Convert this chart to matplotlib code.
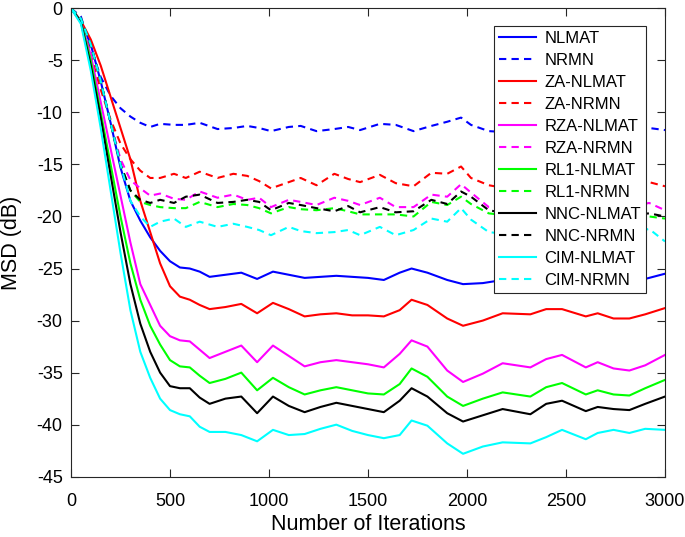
import numpy as np
import matplotlib
matplotlib.use("Agg")
import matplotlib.pyplot as plt

plt.rcParams['font.family'] = ['Liberation Sans', 'DejaVu Sans']
plt.rcParams['axes.unicode_minus'] = False

# ---- data (iteration, MSD in dB) ----
it_solid = [0, 50, 100, 150, 200, 250, 300, 350, 400, 450, 500, 550, 600, 650, 700,
            780, 860, 940, 1020, 1100, 1180, 1260, 1340, 1420, 1500, 1580, 1660, 1720,
            1800, 1900, 1980, 2080, 2180, 2320, 2400, 2480, 2600, 2660, 2740, 2820, 2900, 3000]

nlmat = [0, -1.2, -3.5, -7, -11, -15.3, -18.5, -20.4, -22, -23.3, -24.3, -24.9, -25.0, -25.3, -25.8,
         -25.6, -25.4, -26.0, -25.3, -25.6, -25.9, -25.8, -25.7, -25.8, -25.9, -26.1, -25.4, -25.0,
         -25.4, -26.1, -26.5, -26.4, -26.1, -26.2, -26.1, -26.0, -26.1, -26.0, -26.1, -26.0, -26.0, -25.5]
za_nlmat = [0, -1.2, -3.0, -5.5, -8.5, -11.5, -14.5, -18.5, -21.5, -24.5, -26.7, -27.7, -28.0, -28.5, -28.9,
            -28.7, -28.4, -29.3, -28.3, -28.9, -29.6, -29.4, -29.3, -29.5, -29.5, -29.6, -29.0, -28.0,
            -28.5, -29.8, -30.5, -30.0, -29.3, -29.4, -28.9, -28.9, -29.6, -29.3, -29.8, -29.8, -29.4, -28.8]
rza_nlmat = [0, -1.3, -4.5, -9.0, -13.5, -18.0, -22.5, -26.5, -28.5, -30.5, -31.5, -31.9, -32.0, -32.8, -33.6,
             -33.0, -32.4, -34.0, -32.4, -33.4, -34.4, -34.0, -33.8, -34.0, -34.2, -34.5, -33.2, -31.9,
             -32.5, -34.8, -35.9, -35.1, -34.1, -34.5, -33.7, -33.3, -34.5, -34.0, -34.6, -34.8, -34.3, -33.3]
rl1_nlmat = [0, -1.3, -5.0, -10.0, -15.0, -20.0, -24.5, -28.0, -30.5, -32.3, -33.8, -34.4, -34.5, -35.3, -36.0,
             -35.6, -35.0, -36.7, -35.5, -36.4, -37.1, -36.7, -36.4, -36.7, -37.0, -37.1, -36.1, -34.6,
             -35.4, -37.3, -38.2, -37.5, -36.9, -37.3, -36.4, -36.0, -37.1, -36.7, -37.1, -37.2, -36.5, -35.7]
nnc_nlmat = [0, -1.3, -5.5, -10.5, -16.0, -21.5, -26.5, -30.3, -33.0, -35.0, -36.3, -36.5, -36.5, -37.4, -38.0,
             -37.5, -37.3, -38.9, -37.3, -38.2, -38.8, -38.3, -37.9, -38.2, -38.5, -38.8, -37.7, -36.5,
             -37.3, -38.9, -39.7, -39.1, -38.5, -39.0, -38.0, -37.7, -38.7, -38.3, -38.5, -38.6, -38.0, -37.3]
cim_nlmat = [0, -1.5, -6.0, -11.5, -17.5, -23.5, -29.0, -33.0, -35.5, -37.5, -38.6, -39.0, -39.2, -40.2, -40.7,
             -40.7, -41.0, -41.6, -40.5, -41.0, -40.9, -40.4, -40.0, -40.6, -41.0, -41.3, -41.0, -39.6,
             -40.1, -41.8, -42.8, -42.1, -41.7, -41.8, -41.2, -40.5, -41.4, -40.8, -40.5, -40.8, -40.4, -40.5]

it_dash = [0, 50, 100, 150, 200, 250, 300, 350, 400, 450, 520, 580, 650, 740, 820, 890, 950, 1010,
           1100, 1160, 1240, 1330, 1400, 1460, 1560, 1640, 1730, 1820, 1900, 1970, 2020, 2110,
           2200, 2350, 2500, 2650, 2800, 2920, 3000]

nrmn = [0, -0.8, -3.8, -6.6, -8.4, -9.6, -10.4, -11.0, -11.4, -11.1, -11.2, -11.2, -11.0, -11.6, -11.5, -11.3, -11.5, -11.8,
        -11.4, -11.3, -11.8, -11.6, -11.4, -11.7, -11.1, -11.2, -11.8, -11.3, -10.9, -10.5, -11.2, -11.8,
        -11.9, -12.0, -11.8, -11.9, -11.7, -11.5, -11.7]
za_nrmn = [0, -1.0, -4.5, -7.8, -10.7, -13.0, -14.5, -15.6, -16.3, -16.3, -15.9, -16.3, -15.7, -16.3, -15.9, -16.1, -16.6, -17.3,
           -16.7, -16.3, -17.0, -15.9, -16.4, -16.7, -16.0, -16.8, -17.1, -15.8, -15.9, -15.2, -16.3, -17.0,
           -17.3, -17.0, -16.8, -17.0, -16.9, -16.7, -17.1]
rza_nrmn = [0, -1.0, -3.5, -7.0, -11.0, -14.5, -16.5, -17.3, -18.0, -17.8, -18.3, -18.4, -17.6, -18.2, -17.9, -18.4, -18.2, -19.1,
            -18.4, -18.6, -18.9, -18.2, -18.5, -18.9, -18.2, -19.1, -19.1, -17.9, -18.1, -16.9, -17.7, -19.1,
            -19.2, -19.0, -19.1, -19.0, -19.2, -18.7, -19.4]
rl1_nrmn = [0, -1.0, -3.5, -7.0, -11.0, -15.0, -17.5, -18.6, -18.9, -19.1, -19.2, -19.2, -18.6, -19.1, -18.8, -18.9, -19.2, -19.7,
            -19.1, -19.3, -19.4, -19.2, -19.5, -19.8, -19.8, -19.8, -20.0, -18.6, -18.9, -18.1, -18.8, -19.7,
            -19.9, -20.0, -19.9, -20.0, -20.1, -20.0, -20.2]
nnc_nrmn = [0, -1.0, -3.5, -7.0, -11.0, -15.0, -17.5, -18.4, -18.7, -18.4, -18.7, -18.1, -17.9, -18.7, -18.6, -18.4, -18.6, -19.4,
            -18.7, -18.9, -19.2, -19.5, -19.0, -19.6, -19.1, -19.6, -19.5, -18.4, -18.8, -17.6, -18.1, -19.4,
            -19.7, -19.8, -19.6, -19.8, -19.9, -19.7, -20.0]
cim_nrmn = [0, -1.0, -3.5, -7.0, -11.0, -15.0, -18.5, -20.0, -21.0, -20.5, -20.2, -21.0, -20.5, -21.0, -20.7, -21.0, -21.3, -21.8,
            -21.0, -21.4, -21.6, -21.5, -21.3, -21.8, -21.0, -21.8, -21.3, -20.2, -20.5, -19.2, -20.3, -21.5,
            -21.7, -21.8, -21.6, -21.8, -21.6, -21.2, -22.4]

labels = ["NLMAT", "NRMN", "ZA-NLMAT", "ZA-NRMN", "RZA-NLMAT", "RZA-NRMN",
          "RL1-NLMAT", "RL1-NRMN", "NNC-NLMAT", "NNC-NRMN", "CIM-NLMAT", "CIM-NRMN"]
solid = [nlmat, za_nlmat, rza_nlmat, rl1_nlmat, nnc_nlmat, cim_nlmat]
dashed = [nrmn, za_nrmn, rza_nrmn, rl1_nrmn, nnc_nrmn, cim_nrmn]
colors = ["#0000ff", "#ff0000", "#ff00ff", "#00ff00", "#000000", "#00ffff"]

fig = plt.figure(figsize=(6.85, 5.37), dpi=100)
ax = fig.add_axes([71/685, 1 - 476.7/537, 594/685, 468.4/537])

for k in range(6):
    ax.plot(it_solid, solid[k], color=colors[k], lw=1.5, ls='-', label=labels[2*k])
    ax.plot(it_dash, dashed[k], color=colors[k], lw=1.5, ls=(0, (3.5, 2.5)), label=labels[2*k + 1])

ax.set_xlim(0, 3000)
ax.set_ylim(-45, 0)
ax.set_xticks(np.arange(0, 3001, 500))
ax.set_yticks(np.arange(-45, 1, 5))
ax.tick_params(direction='in', top=True, right=True, labelsize=13, length=6,
               color='#262626', width=0.8)
ax.tick_params(axis='x', pad=12)
ax.tick_params(axis='y', pad=6)
for s in ax.spines.values():
    s.set_color('#262626')
    s.set_linewidth(0.8)

# axis titles placed like the reference
fig.text(368/685, 2.0/537, "Number of Iterations", fontsize=15.5,
         ha='center', va='bottom')
fig.text(12/685, 1 - 242.5/537, "MSD (dB)", fontsize=15.5, rotation=90,
         ha='center', va='center')

leg = ax.legend(loc='upper right', bbox_to_anchor=(0.968, 0.962), borderaxespad=0,
                fontsize=12, handlelength=2.2, handletextpad=0.5, labelspacing=0.42,
                fancybox=False, framealpha=1, edgecolor='#262626', borderpad=0.3)
leg.get_frame().set_linewidth(0.8)

fig.savefig("out.png", dpi=100)
